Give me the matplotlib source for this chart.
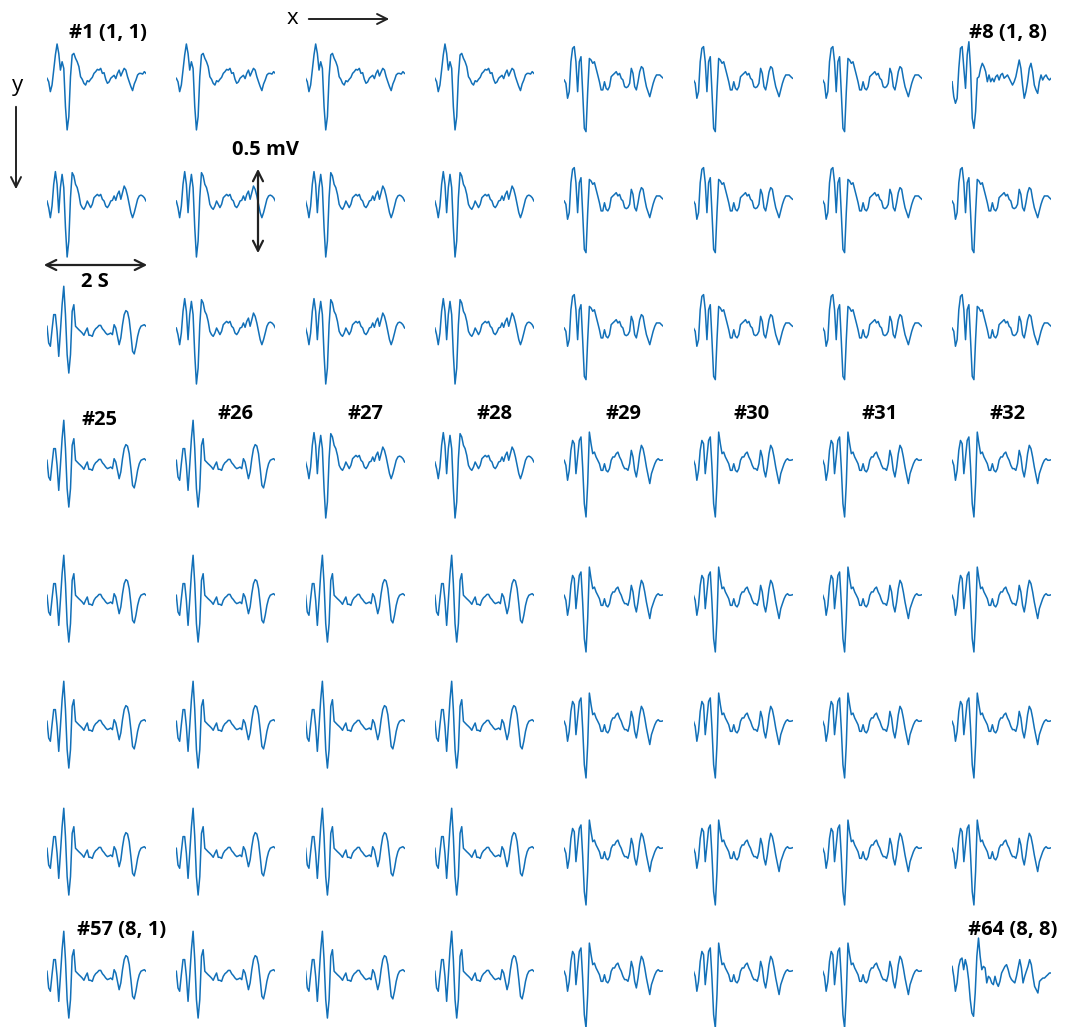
import numpy as np
import matplotlib
matplotlib.use("Agg")
import matplotlib.pyplot as plt

# waveform templates, in microvolts, each 2 s long
wave_a = [10, -10, -67, -29, 57, 144, 207, 153, 57, 105, 67, -153, -287, -211, 19, 144,
          153, 125, 105, 77, 19, 4, -19, -29, -4, -10, 4, 15, 38, 48, 61, 57, 67, 38, 42, 4,
          -19, -11, 10, 19, 27, 8, 38, 57, 23, 46, 67, 57, 19, -10, -38, -61, -23, 0, 29, 38,
          38, 34, 48, 38]
wave_b = [0, -38, -96, -29, 96, 169, 96, -67, 77, 153, 77, -153, -322, -230, 19, 163,
          144, 96, 77, 38, -19, -38, -48, -29, 0, -19, -38, -19, 19, 29, 38, 29, 38, 10, 0,
          -29, -38, -23, 0, 4, 29, 4, 38, 57, 10, 48, 86, 67, 29, -19, -67, -96, -67, -29,
          10, 29, 34, 29, 19, 0]
wave_c = [10, -86, -105, -10, 77, 77, -19, -163, -19, 134, 240, 77, -153, -259, -153, 96,
          134, 10, 0, -10, -19, -29, -42, -19, 0, -42, -42, -48, -19, -4, 4, 15, 15, -4, -15,
          -29, -38, -34, -29, -38, 19, 0, -48, -96, -57, 19, 77, 100, 92, 48, -38, -134, -149,
          -105, -48, -10, 10, 15, 19, 10]
wave_d = [10, -19, -105, -48, 67, 124, 105, -67, 29, 124, 144, -29, -240, -316, -124, 172,
          105, 48, 57, 29, 10, -10, -48, -48, -10, -48, -57, -38, 10, 29, 29, 48, 57, 29, 10,
          -19, -38, -38, -48, -10, 67, 29, -48, -86, -29, 48, 96, 77, 29, -29, -77, -124, -67,
          -38, -10, 10, 19, 10, 10, 13]
wave_e = [0, -19, -105, -67, 105, 182, 192, 105, -67, 105, 134, -67, -278, -297, -67, 124,
          115, 96, 105, 67, 29, -10, -57, -57, -10, -48, -57, -38, 19, 29, 38, 48, 29, 38, 10,
          0, -38, -44, -38, -19, 67, 38, -38, -57, -10, 48, 77, 67, 10, -38, -67, -96, -57,
          -19, 10, 29, 29, 29, 19, 10]
wave_f = [-10, -96, -134, -105, 67, 182, 192, 67, -48, 144, 220, 67, -220, -278, -182, 10,
          19, 67, 96, 77, 48, -10, 29, -10, 10, -10, 19, 29, 0, 29, 38, 10, 19, 29, 10, -10,
          -29, -10, 19, 67, 115, 67, -29, -105, -67, -10, 67, 96, 48, -29, -57, -77, -10, 29,
          0, 19, 29, 10, 0, 10]
wave_g = [38, -19, -105, -57, 38, 77, 86, 19, 77, 38, -38, -153, -230, -249, -115, 96, 201,
          96, 19, 38, 29, -57, -19, -29, -57, -67, -19, -57, -77, -48, 0, 19, 38, 48, 19, -19,
          -38, -48, -57, -19, 29, 77, 29, -57, -19, 10, 38, 77, 48, -19, -77, -96, -115, -48,
          -38, -29, -29, -19, -10, 0, 0]

waves = {"A": wave_a, "B": wave_b, "C": wave_c, "D": wave_d,
         "E": wave_e, "F": wave_f, "G": wave_g}

# which template each electrode (row, col) looks like
grid = ["AAAAEEEF",
        "BBBBEEEE",
        "CBBBEEEE",
        "CCBBDDDD",
        "CCCCDDDD",
        "CCCCDDDD",
        "CCCCDDDD",
        "CCCCDDDG"]

row_labels = ["#25", "#26", "#27", "#28", "#29", "#30", "#31", "#32"]

W, H = 1065, 1027
col_x = [47 + 129.3 * c for c in range(8)]
row_y = [80, 201, 328, 462, 597, 723, 850, 973]
cell_w, cell_h = 99, 130
uv_per_px = 5.75
color = "#1270b8"

fig = plt.figure(figsize=(W / 100, H / 100), dpi=100)

for r in range(8):
    for c in range(8):
        y = np.array(waves[grid[r][c]])
        t = np.linspace(0, 2, len(y))
        ax = fig.add_axes([col_x[c] / W, 1 - (row_y[r] + cell_h / 2) / H,
                           cell_w / W, cell_h / H])
        ax.plot(t, y, color=color, lw=1.1, solid_joinstyle="round")
        ax.set_xlim(0, 2)
        half = cell_h / 2 * uv_per_px
        ax.set_ylim(-half, half)
        ax.axis("off")

# overlay for labels and scale arrows, in pixel units
ov = fig.add_axes([0, 0, 1, 1])
ov.set_xlim(0, W)
ov.set_ylim(H, 0)
ov.axis("off")
ov.patch.set_alpha(0)

fp = dict(family="Open Sans", fontweight="bold", fontsize=14.5, ha="center", va="center")
arr = dict(arrowstyle="->", color="#222222", lw=1.4, mutation_scale=18)
darr = dict(arrowstyle="<->", color="#222222", lw=1.6, mutation_scale=18)

ov.text(108, 33, "#1 (1, 1)", **fp)
ov.text(1008, 33, "#8 (1, 8)", **fp)
ov.text(122, 930, "#57 (8, 1)", **fp)
ov.text(1013, 930, "#64 (8, 8)", **fp)
label_y = [420, 414, 414, 414, 414, 414, 414, 414]
label_x = [100, 235, 365, 495, 623, 752, 880, 1007]
for lx, ly, s in zip(label_x, label_y, row_labels):
    ov.text(lx, ly, s, **fp)

ov.text(292, 19, "x", family="Open Sans", fontsize=16, ha="center", va="center")
ov.annotate("", xy=(392, 19), xytext=(306, 19), arrowprops=arr)
ov.text(17, 85, "y", family="Open Sans", fontsize=16, ha="center", va="center")
ov.annotate("", xy=(16, 192), xytext=(16, 104), arrowprops=arr)

ov.text(265, 150, "0.5 mV", **fp)
ov.annotate("", xy=(258, 256), xytext=(258, 166), arrowprops=darr)
ov.annotate("", xy=(150, 265), xytext=(41, 265), arrowprops=darr)
ov.text(95, 282, "2 S", **fp)

fig.savefig("out.png", dpi=100)
